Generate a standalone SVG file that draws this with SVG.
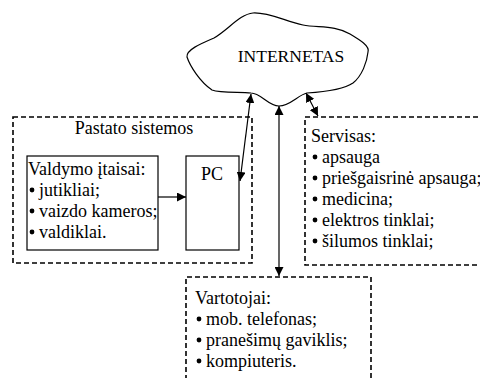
<svg xmlns="http://www.w3.org/2000/svg" width="480" height="378" viewBox="0 0 480 378">
<style>
text{font-family:"Liberation Serif","Times New Roman","DejaVu Serif",serif;font-size:18px;fill:#000}
.dash{fill:none;stroke:#000;stroke-width:1.6;stroke-dasharray:5,3}
.box{fill:#fff;stroke:#000;stroke-width:1.2}
.ln{fill:none;stroke:#000;stroke-width:1.2}
.bul{fill:#000}
</style>
<defs>
<marker id="ah" viewBox="0 0 10 10" refX="10" refY="5" markerWidth="9" markerHeight="9" markerUnits="userSpaceOnUse" orient="auto-start-reverse">
<path d="M0,0 L10,5 L0,10 z" fill="#000"/>
</marker>
</defs>
<rect width="480" height="378" fill="#fff"/>
<g id="cloud">
<path class="ln" d="M187,57 C186,50 200,44 214,38 C228,30 240,14 253,13 C268,12 285,21 303,25 C318,28 335,25 350,34 C360,40 370,46 368,52 C367,62 362,76 353,83 C343,90 322,92 307,93 C298,95 290,106 279,106 C268,106 261,93 251,93 C238,92 220,93 212,90 C200,82 190,66 187,57 Z"/>
<text x="291" y="62" text-anchor="middle" style="font-size:17.5px">INTERNETAS</text>
</g>
<g id="pastato">
<rect class="dash" x="13" y="117" width="239" height="146"/>
<text x="134" y="134" text-anchor="middle">Pastato sistemos</text>
</g>
<g id="valdymo">
<rect class="box" x="27" y="156" width="131" height="94"/>
<text x="28" y="175">Valdymo įtaisai:</text>
<circle class="bul" cx="32" cy="190" r="2.4"/><text x="39" y="196">jutikliai;</text>
<circle class="bul" cx="32" cy="211" r="2.4"/><text x="39" y="217">vaizdo kameros;</text>
<circle class="bul" cx="32" cy="232" r="2.4"/><text x="39" y="238">valdiklai.</text>
</g>
<g id="pc">
<rect class="box" x="186" y="156" width="53" height="94"/>
<text x="212" y="180" text-anchor="middle">PC</text>
</g>
<g id="servisas">
<rect class="dash" x="305" y="117" width="180" height="148"/>
<text x="311" y="142">Servisas:</text>
<circle class="bul" cx="315" cy="157" r="2.4"/><text x="322" y="163">apsauga</text>
<circle class="bul" cx="315" cy="178" r="2.4"/><text x="322" y="184">priešgaisrinė apsauga;</text>
<circle class="bul" cx="315" cy="199" r="2.4"/><text x="322" y="205">medicina;</text>
<circle class="bul" cx="315" cy="220" r="2.4"/><text x="322" y="226">elektros tinklai;</text>
<circle class="bul" cx="315" cy="241" r="2.4"/><text x="322" y="247">šilumos tinklai;</text>
</g>
<g id="vartotojai">
<path class="dash" d="M186,380 V277 H371 V380"/>
<text x="195" y="304">Vartotojai:</text>
<circle class="bul" cx="199" cy="319" r="2.4"/><text x="206" y="325">mob. telefonas;</text>
<circle class="bul" cx="199" cy="340" r="2.4"/><text x="206" y="346">pranešimų gaviklis;</text>
<circle class="bul" cx="199" cy="361" r="2.4"/><text x="206" y="367">kompiuteris.</text>
</g>
<g id="connectors">
<line class="ln" x1="158" y1="197" x2="186" y2="197" marker-end="url(#ah)"/>
<line class="ln" x1="251" y1="94" x2="240" y2="181" marker-start="url(#ah)" marker-end="url(#ah)"/>
<line class="ln" x1="279" y1="106" x2="279" y2="276" marker-start="url(#ah)" marker-end="url(#ah)"/>
<line class="ln" x1="306" y1="93" x2="318" y2="116" marker-start="url(#ah)" marker-end="url(#ah)"/>
</g>
</svg>
